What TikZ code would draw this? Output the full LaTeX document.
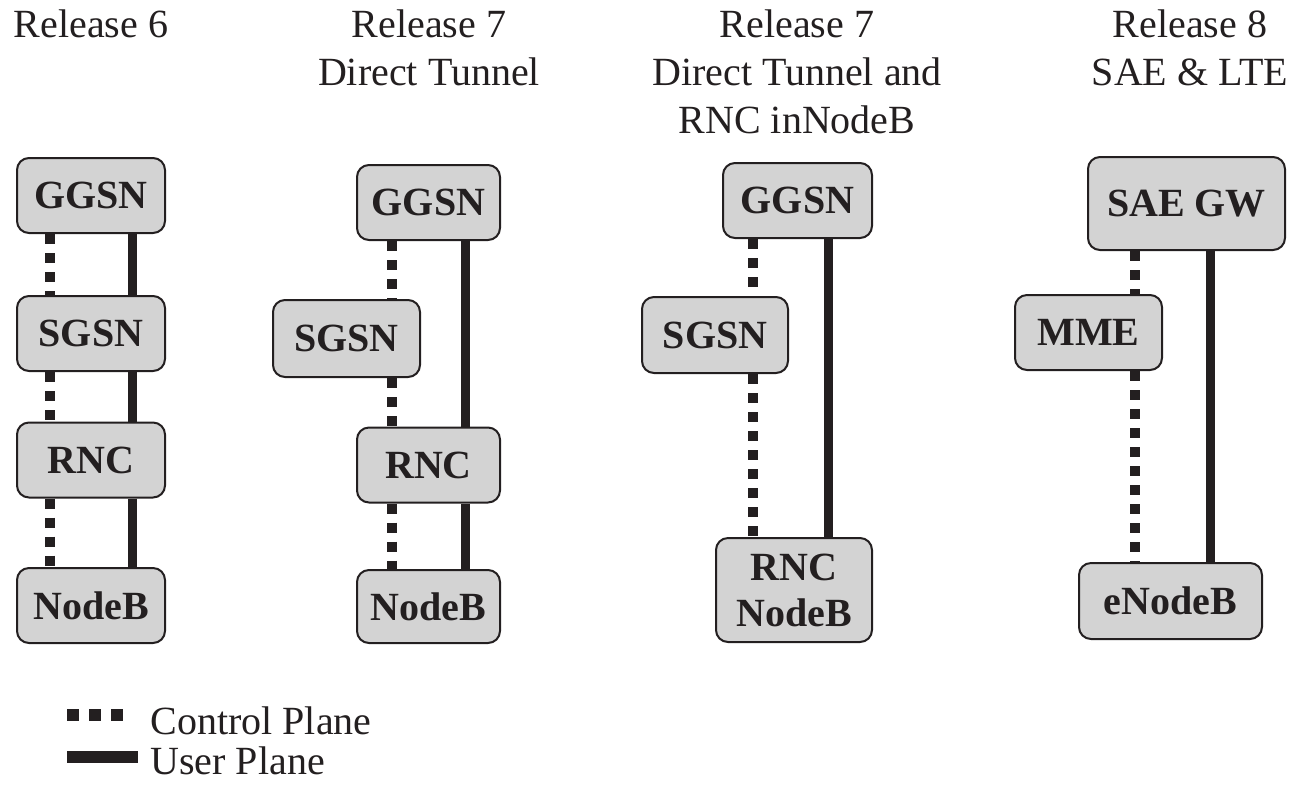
\documentclass[tikz,border=0pt]{standalone}
\usepackage{fontspec}
\setmainfont{Liberation Serif}
\usepackage{xcolor}

\definecolor{boxgray}{HTML}{D3D3D3}
\definecolor{ink}{HTML}{231F20}

\tikzset{
	netbox/.style={draw=ink,fill=boxgray,line width=1pt,rounded corners=6pt,inner sep=0pt,
		minimum width=74pt,minimum height=37.5pt,align=center,text=ink,
		font=\fontsize{20}{23}\selectfont\bfseries},
	relhead/.style={anchor=north,inner sep=0pt,align=center,text=ink,
		font=\fontsize{20}{24}\selectfont},
	legtext/.style={anchor=base west,inner sep=0pt,text=ink,font=\fontsize{20}{24}\selectfont},
	cplane/.style={draw=ink,line width=5pt,dash pattern=on 5pt off 4.5pt},
	uplane/.style={draw=ink,line width=4.5pt}
}

\begin{document}
\begin{tikzpicture}[x=0.5pt,y=-0.5pt]
				\useasboundingbox (0,0) rectangle (1296,784);

				% headings
				\node[relhead] (head6) at (91,9) {Release 6};
				\node[relhead] (head7a) at (429,9) {Release 7\\Direct Tunnel};
				\node[relhead] (head7b) at (797,9) {Release 7\\Direct Tunnel and\\RNC inNodeB};
				\node[relhead] (head8) at (1190,9) {Release 8\\SAE \& LTE};

				% release 6
				\node[netbox] (ggsnA) at (91,195.5) {GGSN};
				\node[netbox] (sgsnA) at (91,333.5) {SGSN};
				\node[netbox] (rncA) at (91,460) {RNC};
				\node[netbox] (nodebA) at (91,605.5) {NodeB};
				\coordinate (cpA) at (50,0);
				\coordinate (upA) at (132,0);
				\draw[cplane] (ggsnA.south -| cpA) -- (sgsnA.north -| cpA);
				\draw[cplane] (sgsnA.south -| cpA) -- (rncA.north -| cpA);
				\draw[cplane] (rncA.south -| cpA) -- (nodebA.north -| cpA);
				\draw[uplane] (ggsnA.south -| upA) -- (sgsnA.north -| upA);
				\draw[uplane] (sgsnA.south -| upA) -- (rncA.north -| upA);
				\draw[uplane] (rncA.south -| upA) -- (nodebA.north -| upA);

				% release 7, direct tunnel
				\node[netbox,minimum width=71.5pt] (ggsnB) at (428.5,202.5) {GGSN};
				\node[netbox,minimum width=73.5pt,minimum height=38.5pt] (sgsnB) at (346.5,338.5) {SGSN};
				\node[netbox,minimum width=71.5pt] (rncB) at (428.5,465) {RNC};
				\node[netbox,minimum width=71.5pt,minimum height=36.5pt] (nodebB) at (428.5,606.5) {NodeB};
				\coordinate (cpB) at (392,0);
				\coordinate (upB) at (465,0);
				\draw[cplane] (ggsnB.south -| cpB) -- (sgsnB.north -| cpB);
				\draw[cplane] (sgsnB.south -| cpB) -- (rncB.north -| cpB);
				\draw[cplane] (rncB.south -| cpB) -- (nodebB.north -| cpB);
				\draw[uplane] (ggsnB.south -| upB) -- (rncB.north -| upB);
				\draw[uplane] (rncB.south -| upB) -- (nodebB.north -| upB);

				% release 7, rnc in nodeb
				\node[netbox,minimum width=74.5pt] (ggsnC) at (797.5,200.5) {GGSN};
				\node[netbox,minimum width=73pt,minimum height=38pt] (sgsnC) at (715,335) {SGSN};
				\node[netbox,minimum width=78pt,minimum height=52pt] (rncnodebC) at (794,590) {RNC\\NodeB};
				\coordinate (cpC) at (753,0);
				\coordinate (upC) at (828,0);
				\draw[cplane] (ggsnC.south -| cpC) -- (sgsnC.north -| cpC);
				\draw[cplane] (sgsnC.south -| cpC) -- (rncnodebC.north -| cpC);
				\draw[uplane] (ggsnC.south -| upC) -- (rncnodebC.north -| upC);

				% release 8
				\node[netbox,minimum width=98.5pt,minimum height=46.5pt] (saegwD) at (1186.5,203.5) {SAE GW};
				\node[netbox,minimum width=73.5pt] (mmeD) at (1088.5,332.5) {MME};
				\node[netbox,minimum width=91.5pt,minimum height=38pt] (enodebD) at (1170.5,601) {eNodeB};
				\coordinate (cpD) at (1135,0);
				\coordinate (upD) at (1210,0);
				\draw[cplane] (saegwD.south -| cpD) -- (mmeD.north -| cpD);
				\draw[cplane] (mmeD.south -| cpD) -- (enodebD.north -| cpD);
				\draw[uplane] (saegwD.south -| upD) -- (enodebD.north -| upD);

				% legend
				\coordinate (cpleft) at (67,715);
				\coordinate (cpright) at (129,715);
				\coordinate (upleft) at (67,757);
				\coordinate (upright) at (138,757);
				\draw[cplane,line width=6pt,dash pattern=on 6pt off 5pt] (cpleft) -- (cpright);
				\draw[uplane,line width=6pt] (upleft) -- (upright);
				\node[legtext] (cplabel) at (150,734) {Control Plane};
				\node[legtext] (uplabel) at (150,774) {User Plane};
		\end{tikzpicture}
\end{document}
